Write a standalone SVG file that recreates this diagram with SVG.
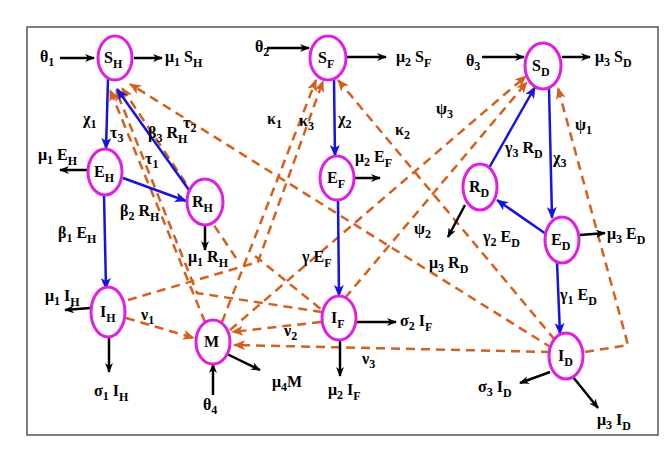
<svg xmlns="http://www.w3.org/2000/svg" width="670" height="460" viewBox="0 0 670 460">
<defs>
<marker id="ak" markerWidth="10" markerHeight="8" refX="9" refY="4" orient="auto" markerUnits="userSpaceOnUse"><path d="M0,0 L10,4 L0,8 L3,4 z" fill="#000"/></marker>
<marker id="ab" markerWidth="12" markerHeight="10" refX="11" refY="5" orient="auto" markerUnits="userSpaceOnUse"><path d="M0,0 L12,5 L0,10 L3,5 z" fill="#1414e0"/></marker>
<marker id="ao" markerWidth="12" markerHeight="10" refX="11" refY="5" orient="auto" markerUnits="userSpaceOnUse"><path d="M0,0 L12,5 L0,10 L3,5 z" fill="#d5601e"/></marker>
</defs>
<style>
.n{fill:#fff;stroke:#e020e0;stroke-width:3}
.k{stroke:#000;stroke-width:2.5;fill:none;marker-end:url(#ak)}
.b{stroke:#1414e0;stroke-width:2.5;fill:none;marker-end:url(#ab)}
.o{stroke:#d5601e;stroke-width:2.5;fill:none;stroke-dasharray:9,6;marker-end:url(#ao)}
.p{stroke:#d5601e;stroke-width:2.5;fill:none;stroke-dasharray:9,6}
text{font-family:"Liberation Serif",serif;font-weight:bold;font-size:16px;fill:#000}
.s{font-size:12px}
</style>
<rect x="0" y="0" width="670" height="460" fill="#fff"/>
<rect x="27" y="27" width="631" height="408" fill="none" stroke="#555" stroke-width="1.5"/>
<g id="connectors">
<path class="o" d="M205,322 L110,90"/>
<path class="o" d="M322,312 L197,293 L116,90"/>
<path class="o" d="M236,258 L122,88"/>
<path class="o" d="M552,348 L130,84"/>
<path class="o" d="M222,322 L316,80"/>
<path class="o" d="M128,300 L258,262 L323,81"/>
<path class="o" d="M555,340 L338,80"/>
<path class="o" d="M230,330 L526,76"/>
<path class="o" d="M345,298 L527,82"/>
<path class="o" d="M585,352 L628,345 L558,88"/>
<path class="o" d="M126,318 L194,338"/>
<path class="o" d="M321,322 L232,332"/>
<path class="o" d="M550,352 L234,345"/>
<path class="p" d="M255,256 L322,310"/>
<path class="b" d="M108,79 L106,149"/>
<path class="b" d="M189,190 L117,89"/>
<path class="b" d="M123,178 L186,201"/>
<path class="b" d="M104,194 L106,289"/>
<path class="b" d="M334,80 L335,156"/>
<path class="b" d="M338,200 L339,296"/>
<path class="b" d="M489,168 L535,87"/>
<path class="b" d="M549,88 L552,218"/>
<path class="b" d="M546,234 L497,200"/>
<path class="b" d="M557,262 L560,334"/>
<path class="k" d="M60,58 L94,58"/>
<path class="k" d="M134,58 L162,58"/>
<path class="k" d="M88,170 L60,170"/>
<path class="k" d="M205,225 L205,250"/>
<path class="k" d="M90,308 L65,310"/>
<path class="k" d="M109,334 L109,372"/>
<path class="k" d="M267,48 L309,48"/>
<path class="k" d="M346,57 L386,57"/>
<path class="k" d="M354,178 L380,178"/>
<path class="k" d="M357,322 L396,322"/>
<path class="k" d="M340,340 L340,376"/>
<path class="k" d="M213,395 L213,364"/>
<path class="k" d="M227,354 L260,370"/>
<path class="k" d="M482,57 L524,57"/>
<path class="k" d="M562,57 L590,57"/>
<path class="k" d="M465,205 L448,237"/>
<path class="k" d="M580,235 L605,233"/>
<path class="k" d="M550,372 L520,383"/>
<path class="k" d="M573,377 L598,408"/>
</g>
<g id="SH"><ellipse class="n" cx="115" cy="58" rx="17" ry="22"/><text x="104" y="63">S<tspan class="s" dy="5">H</tspan></text></g>
<g id="EH"><ellipse class="n" cx="105" cy="172" rx="17" ry="23"/><text x="94" y="177">E<tspan class="s" dy="5">H</tspan></text></g>
<g id="RH"><ellipse class="n" cx="205" cy="202" rx="18" ry="23"/><text x="192" y="207">R<tspan class="s" dy="5">H</tspan></text></g>
<g id="IH"><ellipse class="n" cx="108" cy="312" rx="17" ry="25"/><text x="100" y="317">I<tspan class="s" dy="5">H</tspan></text></g>
<g id="M"><ellipse class="n" cx="213" cy="342" rx="17" ry="22"/><text x="204" y="347">M</text></g>
<g id="SF"><ellipse class="n" cx="328" cy="58" rx="18" ry="22"/><text x="318" y="63">S<tspan class="s" dy="5">F</tspan></text></g>
<g id="EF"><ellipse class="n" cx="337" cy="178" rx="17" ry="22"/><text x="327" y="183">E<tspan class="s" dy="5">F</tspan></text></g>
<g id="IF"><ellipse class="n" cx="339" cy="318" rx="17" ry="22"/><text x="331" y="323">I<tspan class="s" dy="5">F</tspan></text></g>
<g id="SD"><ellipse class="n" cx="543" cy="66" rx="18" ry="23"/><text x="532" y="71">S<tspan class="s" dy="5">D</tspan></text></g>
<g id="RD"><ellipse class="n" cx="480" cy="187" rx="17" ry="23"/><text x="469" y="192">R<tspan class="s" dy="5">D</tspan></text></g>
<g id="ED"><ellipse class="n" cx="562" cy="240" rx="17" ry="23"/><text x="551" y="245">E<tspan class="s" dy="5">D</tspan></text></g>
<g id="ID"><ellipse class="n" cx="566" cy="356" rx="17" ry="23"/><text x="558" y="361">I<tspan class="s" dy="5">D</tspan></text></g>
<g id="labels">
<text x="40" y="62">θ<tspan class="s" dy="4">1</tspan></text>
<text x="165" y="62">μ<tspan class="s" dy="4">1</tspan><tspan dy="-4"> S</tspan><tspan class="s" dy="5">H</tspan></text>
<text x="83" y="124">χ<tspan class="s" dy="4">1</tspan></text>
<text x="110" y="138">τ<tspan class="s" dy="4">3</tspan></text>
<text x="148" y="138">β<tspan class="s" dy="4">3</tspan><tspan dy="-4"> R</tspan><tspan class="s" dy="5">H</tspan></text>
<text x="183" y="128">τ<tspan class="s" dy="4">2</tspan></text>
<text x="145" y="164">τ<tspan class="s" dy="4">1</tspan></text>
<text x="38" y="160">μ<tspan class="s" dy="4">1</tspan><tspan dy="-4"> E</tspan><tspan class="s" dy="5">H</tspan></text>
<text x="120" y="216">β<tspan class="s" dy="4">2</tspan><tspan dy="-4"> R</tspan><tspan class="s" dy="5">H</tspan></text>
<text x="58" y="238">β<tspan class="s" dy="4">1</tspan><tspan dy="-4"> E</tspan><tspan class="s" dy="5">H</tspan></text>
<text x="188" y="262">μ<tspan class="s" dy="4">1</tspan><tspan dy="-4"> R</tspan><tspan class="s" dy="5">H</tspan></text>
<text x="45" y="301">μ<tspan class="s" dy="4">1</tspan><tspan dy="-4"> I</tspan><tspan class="s" dy="5">H</tspan></text>
<text x="141" y="320">ν<tspan class="s" dy="4">1</tspan></text>
<text x="94" y="396">σ<tspan class="s" dy="4">1</tspan><tspan dy="-4"> I</tspan><tspan class="s" dy="5">H</tspan></text>
<text x="203" y="410">θ<tspan class="s" dy="4">4</tspan></text>
<text x="272" y="387">μ<tspan class="s" dy="4">4</tspan><tspan dy="-4">M</tspan></text>
<text x="284" y="336">ν<tspan class="s" dy="4">2</tspan></text>
<text x="255" y="52">θ<tspan class="s" dy="4">2</tspan></text>
<text x="396" y="62">μ<tspan class="s" dy="4">2</tspan><tspan dy="-4"> S</tspan><tspan class="s" dy="5">F</tspan></text>
<text x="267" y="124">κ<tspan class="s" dy="4">1</tspan></text>
<text x="299" y="126">κ<tspan class="s" dy="4">3</tspan></text>
<text x="338" y="124">χ<tspan class="s" dy="4">2</tspan></text>
<text x="395" y="135">κ<tspan class="s" dy="4">2</tspan></text>
<text x="355" y="162">μ<tspan class="s" dy="4">2</tspan><tspan dy="-4"> E</tspan><tspan class="s" dy="5">F</tspan></text>
<text x="302" y="262">γ E<tspan class="s" dy="5">F</tspan></text>
<text x="436" y="114">ψ<tspan class="s" dy="4">3</tspan></text>
<text x="414" y="234">ψ<tspan class="s" dy="4">2</tspan></text>
<text x="400" y="326">σ<tspan class="s" dy="4">2</tspan><tspan dy="-4"> I</tspan><tspan class="s" dy="5">F</tspan></text>
<text x="362" y="364">ν<tspan class="s" dy="4">3</tspan></text>
<text x="328" y="395">μ<tspan class="s" dy="4">2</tspan><tspan dy="-4"> I</tspan><tspan class="s" dy="5">F</tspan></text>
<text x="466" y="66">θ<tspan class="s" dy="4">3</tspan></text>
<text x="595" y="62">μ<tspan class="s" dy="4">3</tspan><tspan dy="-4"> S</tspan><tspan class="s" dy="5">D</tspan></text>
<text x="575" y="130">ψ<tspan class="s" dy="4">1</tspan></text>
<text x="505" y="153">γ<tspan class="s" dy="4">3</tspan><tspan dy="-4"> R</tspan><tspan class="s" dy="5">D</tspan></text>
<text x="553" y="163">χ<tspan class="s" dy="4">3</tspan></text>
<text x="483" y="242">γ<tspan class="s" dy="4">2</tspan><tspan dy="-4"> E</tspan><tspan class="s" dy="5">D</tspan></text>
<text x="607" y="239">μ<tspan class="s" dy="4">3</tspan><tspan dy="-4"> E</tspan><tspan class="s" dy="5">D</tspan></text>
<text x="429" y="268">μ<tspan class="s" dy="4">3</tspan><tspan dy="-4"> R</tspan><tspan class="s" dy="5">D</tspan></text>
<text x="560" y="300">γ<tspan class="s" dy="4">1</tspan><tspan dy="-4"> E</tspan><tspan class="s" dy="5">D</tspan></text>
<text x="478" y="392">σ<tspan class="s" dy="4">3</tspan><tspan dy="-4"> I</tspan><tspan class="s" dy="5">D</tspan></text>
<text x="597" y="425">μ<tspan class="s" dy="4">3</tspan><tspan dy="-4"> I</tspan><tspan class="s" dy="5">D</tspan></text>
</g>
</svg>
